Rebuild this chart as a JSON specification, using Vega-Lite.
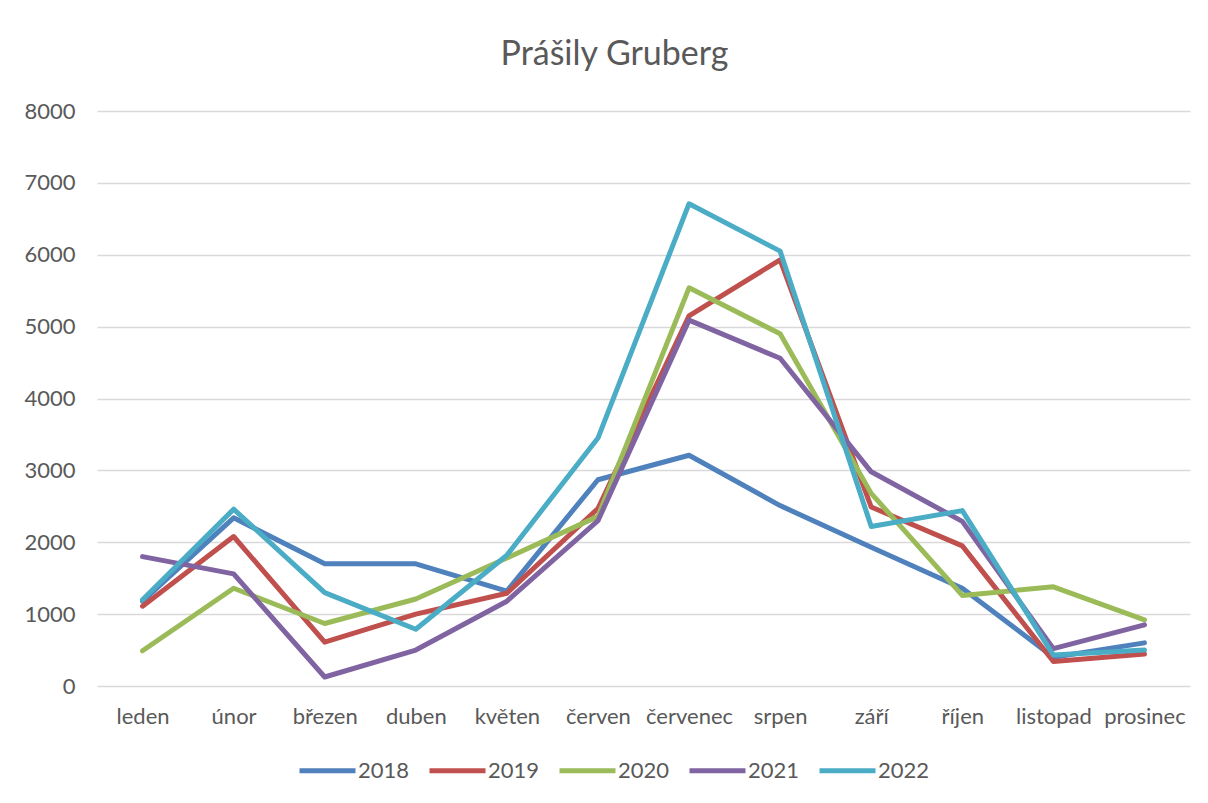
{
  "$schema": "https://vega.github.io/schema/vega-lite/v6.json",
  "autosize": {"type": "none"},
  "width": 1093,
  "height": 575,
  "padding": {"left": 97, "top": 111, "right": 18, "bottom": 117},
  "background": "white",
  "title": {"text": "Prášily Gruberg", "fontSize": 34, "font": "Lato", "fontWeight": "normal", "color": "#595959", "anchor": "middle", "offset": 28, "dx": -29},
  "data": {"values": [
    {"mesic": "leden", "rok": "2018", "hodnota": 1180},
    {"mesic": "únor", "rok": "2018", "hodnota": 2340},
    {"mesic": "březen", "rok": "2018", "hodnota": 1700},
    {"mesic": "duben", "rok": "2018", "hodnota": 1700},
    {"mesic": "květen", "rok": "2018", "hodnota": 1320},
    {"mesic": "červen", "rok": "2018", "hodnota": 2870},
    {"mesic": "červenec", "rok": "2018", "hodnota": 3210},
    {"mesic": "srpen", "rok": "2018", "hodnota": 2510},
    {"mesic": "září", "rok": "2018", "hodnota": 1930},
    {"mesic": "říjen", "rok": "2018", "hodnota": 1360},
    {"mesic": "listopad", "rok": "2018", "hodnota": 400},
    {"mesic": "prosinec", "rok": "2018", "hodnota": 600},
    {"mesic": "leden", "rok": "2019", "hodnota": 1110},
    {"mesic": "únor", "rok": "2019", "hodnota": 2080},
    {"mesic": "březen", "rok": "2019", "hodnota": 610},
    {"mesic": "duben", "rok": "2019", "hodnota": 1000},
    {"mesic": "květen", "rok": "2019", "hodnota": 1290},
    {"mesic": "červen", "rok": "2019", "hodnota": 2470},
    {"mesic": "červenec", "rok": "2019", "hodnota": 5150},
    {"mesic": "srpen", "rok": "2019", "hodnota": 5930},
    {"mesic": "září", "rok": "2019", "hodnota": 2490},
    {"mesic": "říjen", "rok": "2019", "hodnota": 1950},
    {"mesic": "listopad", "rok": "2019", "hodnota": 340},
    {"mesic": "prosinec", "rok": "2019", "hodnota": 445},
    {"mesic": "leden", "rok": "2020", "hodnota": 490},
    {"mesic": "únor", "rok": "2020", "hodnota": 1360},
    {"mesic": "březen", "rok": "2020", "hodnota": 870},
    {"mesic": "duben", "rok": "2020", "hodnota": 1210},
    {"mesic": "květen", "rok": "2020", "hodnota": 1780},
    {"mesic": "červen", "rok": "2020", "hodnota": 2360},
    {"mesic": "červenec", "rok": "2020", "hodnota": 5540},
    {"mesic": "srpen", "rok": "2020", "hodnota": 4900},
    {"mesic": "září", "rok": "2020", "hodnota": 2680},
    {"mesic": "říjen", "rok": "2020", "hodnota": 1260},
    {"mesic": "listopad", "rok": "2020", "hodnota": 1380},
    {"mesic": "prosinec", "rok": "2020", "hodnota": 920},
    {"mesic": "leden", "rok": "2021", "hodnota": 1800},
    {"mesic": "únor", "rok": "2021", "hodnota": 1560},
    {"mesic": "březen", "rok": "2021", "hodnota": 125},
    {"mesic": "duben", "rok": "2021", "hodnota": 500},
    {"mesic": "květen", "rok": "2021", "hodnota": 1180},
    {"mesic": "červen", "rok": "2021", "hodnota": 2300},
    {"mesic": "červenec", "rok": "2021", "hodnota": 5090},
    {"mesic": "srpen", "rok": "2021", "hodnota": 4560},
    {"mesic": "září", "rok": "2021", "hodnota": 2980},
    {"mesic": "říjen", "rok": "2021", "hodnota": 2290},
    {"mesic": "listopad", "rok": "2021", "hodnota": 520},
    {"mesic": "prosinec", "rok": "2021", "hodnota": 850},
    {"mesic": "leden", "rok": "2022", "hodnota": 1200},
    {"mesic": "únor", "rok": "2022", "hodnota": 2460},
    {"mesic": "březen", "rok": "2022", "hodnota": 1300},
    {"mesic": "duben", "rok": "2022", "hodnota": 790},
    {"mesic": "květen", "rok": "2022", "hodnota": 1820},
    {"mesic": "červen", "rok": "2022", "hodnota": 3450},
    {"mesic": "červenec", "rok": "2022", "hodnota": 6710},
    {"mesic": "srpen", "rok": "2022", "hodnota": 6050},
    {"mesic": "září", "rok": "2022", "hodnota": 2220},
    {"mesic": "říjen", "rok": "2022", "hodnota": 2440},
    {"mesic": "listopad", "rok": "2022", "hodnota": 430},
    {"mesic": "prosinec", "rok": "2022", "hodnota": 500}
  ]},
  "mark": {"type": "line", "strokeWidth": 5, "strokeCap": "round", "strokeJoin": "round"},
  "encoding": {
    "x": {
      "field": "mesic", "type": "nominal",
      "sort": ["leden", "únor", "březen", "duben", "květen", "červen", "červenec", "srpen", "září", "říjen", "listopad", "prosinec"],
      "scale": {"type": "point", "padding": 0.5},
      "axis": {"title": null, "labelAngle": 0, "ticks": false, "domain": false, "labelFont": "Lato", "labelFontSize": 22, "labelColor": "#595959", "labelPadding": 20, "grid": false}
    },
    "y": {
      "field": "hodnota", "type": "quantitative",
      "scale": {"domain": [0, 8000], "nice": false},
      "axis": {"title": null, "values": [0, 1000, 2000, 3000, 4000, 5000, 6000, 7000, 8000], "format": "d", "ticks": false, "domain": false, "labelFont": "Lato", "labelFontSize": 22, "labelColor": "#595959", "labelPadding": 22, "gridColor": "#d9d9d9", "gridWidth": 1.5}
    },
    "color": {
      "field": "rok", "type": "nominal",
      "scale": {"domain": ["2018", "2019", "2020", "2021", "2022"], "range": ["#4F81BD", "#C0504D", "#9BBB59", "#8064A2", "#4BACC6"]},
      "legend": {"title": null, "orient": "none", "legendX": 200, "legendY": 629, "direction": "horizontal", "symbolType": "stroke", "symbolSize": 3136, "symbolStrokeWidth": 5, "labelFont": "Lato", "labelFontSize": 22, "labelColor": "#595959", "columnPadding": 9, "labelOffset": 0}
    }
  },
  "config": {"view": {"stroke": null}}
}
